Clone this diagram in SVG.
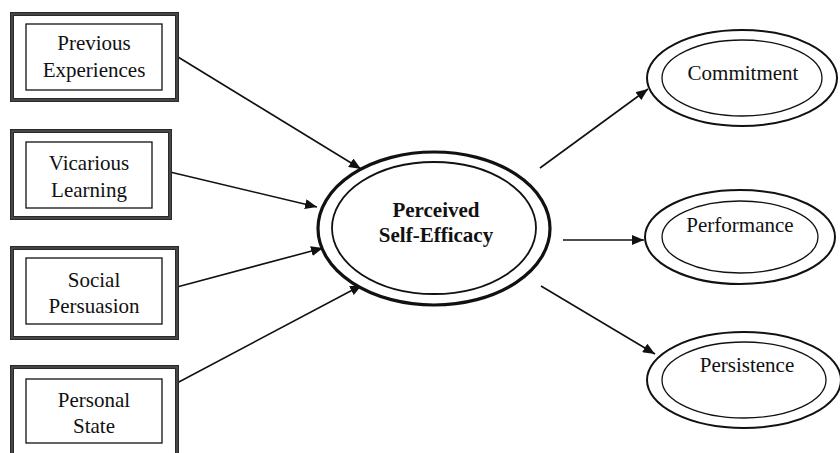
<svg xmlns="http://www.w3.org/2000/svg" width="840" height="453" viewBox="0 0 840 453">
<style>
.ob{fill:#fff;stroke:#2a2a2a;stroke-width:4}
.og{fill:none;stroke:#505050;stroke-width:1.5}
.ib{fill:#fff;stroke:#111;stroke-width:1.3}
.t{font-family:"Liberation Serif","Times New Roman",serif;font-size:21px;fill:#111;text-anchor:middle}
.b{font-weight:bold}
.oe{fill:#fff;stroke:#111;stroke-width:2}
.ie{fill:none;stroke:#111;stroke-width:1.3}
.c line{stroke:#111;stroke-width:1.6;marker-end:url(#ah)}
</style>
<defs>
<marker id="ah" viewBox="0 0 12 10" refX="12" refY="5" markerWidth="12" markerHeight="10" markerUnits="userSpaceOnUse" orient="auto">
<path d="M0,0 L12,5 L0,10 z" fill="#111"/>
</marker>
</defs>
<rect width="840" height="453" fill="#fff"/>
<g class="c" id="connectors">
<line x1="178" y1="57" x2="361" y2="169"/>
<line x1="170" y1="172" x2="317" y2="207"/>
<line x1="177" y1="287" x2="323" y2="248"/>
<line x1="177" y1="383" x2="362" y2="285"/>
<line x1="540" y1="168" x2="648" y2="89"/>
<line x1="563" y1="240" x2="644" y2="240"/>
<line x1="541" y1="286" x2="655" y2="354"/>
</g>
<g id="previous">
<rect class="ob" x="12" y="14" width="165" height="86"/>
<rect class="og" x="12" y="14" width="165" height="86"/>
<rect class="ib" x="26" y="24" width="136" height="66"/>
<text class="t" x="94" y="50">Previous</text>
<text class="t" x="94" y="77">Experiences</text>
</g>
<g id="vicarious">
<rect class="ob" x="12" y="131" width="158" height="87"/>
<rect class="og" x="12" y="131" width="158" height="87"/>
<rect class="ib" x="26" y="142" width="126" height="66"/>
<text class="t" x="89" y="170">Vicarious</text>
<text class="t" x="89" y="197">Learning</text>
</g>
<g id="social">
<rect class="ob" x="12" y="248" width="165" height="90"/>
<rect class="og" x="12" y="248" width="165" height="90"/>
<rect class="ib" x="26" y="258" width="136" height="66"/>
<text class="t" x="94" y="287">Social</text>
<text class="t" x="94" y="313">Persuasion</text>
</g>
<g id="personal">
<rect class="ob" x="12" y="367" width="165" height="92"/>
<rect class="og" x="12" y="367" width="165" height="92"/>
<rect class="ib" x="26" y="379" width="136" height="64"/>
<text class="t" x="94" y="407">Personal</text>
<text class="t" x="94" y="433">State</text>
</g>
<g id="selfefficacy">
<ellipse cx="434" cy="228.5" rx="116" ry="76.5" fill="#fff" stroke="#111" stroke-width="3.2"/>
<ellipse cx="434" cy="228" rx="102" ry="66" fill="none" stroke="#111" stroke-width="1.8"/>
<text class="t b" x="436" y="217">Perceived</text>
<text class="t b" x="436" y="242">Self-Efficacy</text>
</g>
<g id="commitment">
<ellipse class="oe" cx="742" cy="78" rx="95" ry="48"/>
<ellipse class="ie" cx="742" cy="78" rx="80" ry="38"/>
<text class="t" x="743" y="80">Commitment</text>
</g>
<g id="performance">
<ellipse class="oe" cx="740" cy="237" rx="95" ry="47"/>
<ellipse class="ie" cx="740" cy="237" rx="78" ry="36"/>
<text class="t" x="740" y="232">Performance</text>
</g>
<g id="persistence">
<ellipse class="oe" cx="744" cy="380" rx="97" ry="48"/>
<ellipse class="ie" cx="744" cy="380" rx="82" ry="38"/>
<text class="t" x="747" y="372">Persistence</text>
</g>
</svg>
